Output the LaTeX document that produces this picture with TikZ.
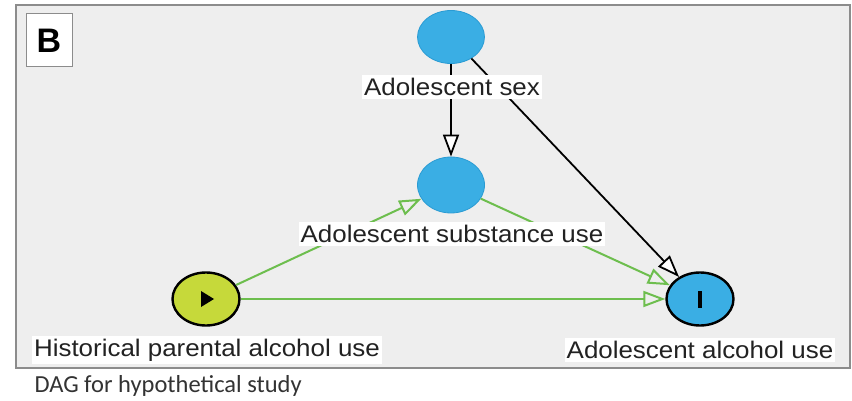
\documentclass[tikz,border=0pt]{standalone}
\usepackage{fontspec}
\setmainfont{Liberation Sans}
\newfontfamily\labfont[FakeStretch=1.08]{Liberation Sans}
\newfontfamily\capfont{Carlito}
\usetikzlibrary{arrows.meta,shapes.geometric,calc}
\definecolor{panelbg}{HTML}{EEEEEE}
\definecolor{framegray}{HTML}{8C8C8C}
\definecolor{nodeblue}{HTML}{3AAEE4}
\definecolor{nodeblueedge}{HTML}{2A9BD3}
\definecolor{exposure}{HTML}{C6D93A}
\definecolor{causalgreen}{HTML}{6DBE4E}
\definecolor{labeltext}{HTML}{222222}
\definecolor{captiontext}{HTML}{333333}
\begin{document}
\begin{tikzpicture}[x=1pt,y=-1pt,
  var/.style={ellipse, minimum width=67pt, minimum height=53pt, inner sep=0pt},
  plainvar/.style={var, fill=nodeblue, draw=nodeblueedge, line width=0.8pt},
  outcomevar/.style={var, fill=nodeblue, draw=black, line width=2.4pt},
  exposurevar/.style={var, fill=exposure, draw=black, line width=2.4pt},
  varlabel/.style={fill=white, inner xsep=2pt, inner ysep=3pt, text=labeltext,
    font=\labfont\fontsize{24}{28}\selectfont},
  biasarrow/.style={draw=black, line width=1.8pt,
    -{Triangle[open, length=22pt, width=16pt, fill=white]}},
  causalarrow/.style={draw=causalgreen, line width=2pt,
    -{Triangle[open, length=22pt, width=16pt]}}
]
\useasboundingbox (0,0) rectangle (852,401);
\fill[white] (0,0) rectangle (852,401);

% panel
\draw[framegray, fill=panelbg, line width=1.6pt] (16,5) rectangle (850,368);
\node[draw=framegray, fill=white, line width=1pt, minimum width=46pt, minimum height=53pt,
  inner sep=0pt, font=\bfseries\fontsize{34}{36}\selectfont] (panel) at (49,40.5) {B};

% variables
\node[plainvar] (sex) at (451,37) {};
\node[plainvar, minimum height=56pt] (subst) at (451,185) {};
\node[exposurevar] (parent) at (206,299) {};
\node[outcomevar] (alc) at (700,299) {};

% markers inside exposure and outcome
\fill[black] ($(parent)+(-5,-8)$) -- ($(parent)+(8,0)$) -- ($(parent)+(-5,8)$) -- cycle;
\fill[black] ($(alc)+(-2.2,-8)$) rectangle ($(alc)+(2.2,9)$);

% edges
\draw[biasarrow] (sex) -- (subst);
\draw[biasarrow] (sex) -- (alc);
\draw[causalarrow] (parent) -- (subst);
\draw[causalarrow] (subst) -- (alc);
\draw[causalarrow] (parent) -- (alc);

% labels
\node[varlabel] (sexlab) at (452,87) {Adolescent sex};
\node[varlabel] (substlab) at (452,234) {Adolescent substance use};
\node[varlabel] (parentlab) at (207,350) {Historical parental alcohol use};
\node[varlabel] (alclab) at (700,350) {Adolescent alcohol use};

% caption
\node[anchor=west, text=captiontext, font=\capfont\fontsize{24.5}{28}\selectfont] (caption) at (31,386) {DAG for hypothetical study};
\end{tikzpicture}
\end{document}
